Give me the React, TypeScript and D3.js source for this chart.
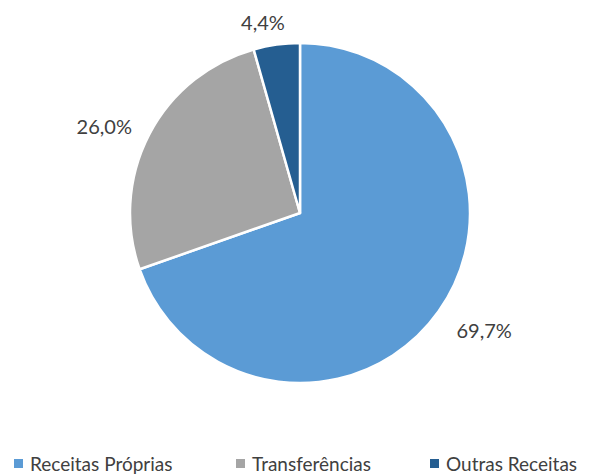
import React from "react";
import * as d3 from "d3";

const categories = ["Receitas Próprias", "Transferências", "Outras Receitas"];
const values = [69.7, 26.0, 4.4];
const labels = ["69,7%", "26,0%", "4,4%"];
const colors = ["#5B9BD5", "#A5A5A5", "#255E91"];

export default function App() {
  const W = 602, H = 475;
  const cx = 300, cy = 213, r = 170;
  const pie = d3.pie<number>().sort(null).value((d) => d);
  const arcs = pie(values);
  const arc = d3.arc<d3.PieArcDatum<number>>().innerRadius(0).outerRadius(r);
  const gap = 17;
  const labelArc = d3.arc<d3.PieArcDatum<number>>().innerRadius(r + gap).outerRadius(r + gap);
  const font = "Lato, 'Open Sans', sans-serif";
  const legendX = [14, 236, 430];
  const hw = [29, 29, 24];
  const hh = 10;
  const nudge = [[8, 3], [-4, 4], [-8, 4]];
  return (
    <svg width={W} height={H} style={{ position: "absolute", left: 0, top: 0 }}>
      <rect width={W} height={H} fill="#fff" />
      <g transform={`translate(${cx},${cy})`}>
        {arcs.map((a, i) => (
          <path key={i} d={arc(a) || ""} fill={colors[i]} stroke="#fff" strokeWidth={2.5} strokeLinejoin="round" />
        ))}
        {arcs.map((a, i) => {
          const [x, y] = labelArc.centroid(a);
          const m = (a.startAngle + a.endAngle) / 2;
          const dx = Math.sin(m);
          const dy = -Math.cos(m);
          return (
            <text key={i} x={x + dx * hw[i] + nudge[i][0]} y={y + dy * hh + nudge[i][1]} textAnchor="middle" dominantBaseline="central" fontFamily={font} fontSize={20} fill="#404040">
              {labels[i]}
            </text>
          );
        })}
      </g>
      {categories.map((c, i) => (
        <g key={c}>
          <rect x={legendX[i]} y={459} width={9} height={9} fill={colors[i]} />
          <text x={legendX[i] + 16} y={471} fontFamily={font} fontSize={19} fill="#404040">{c}</text>
        </g>
      ))}
    </svg>
  );
}
